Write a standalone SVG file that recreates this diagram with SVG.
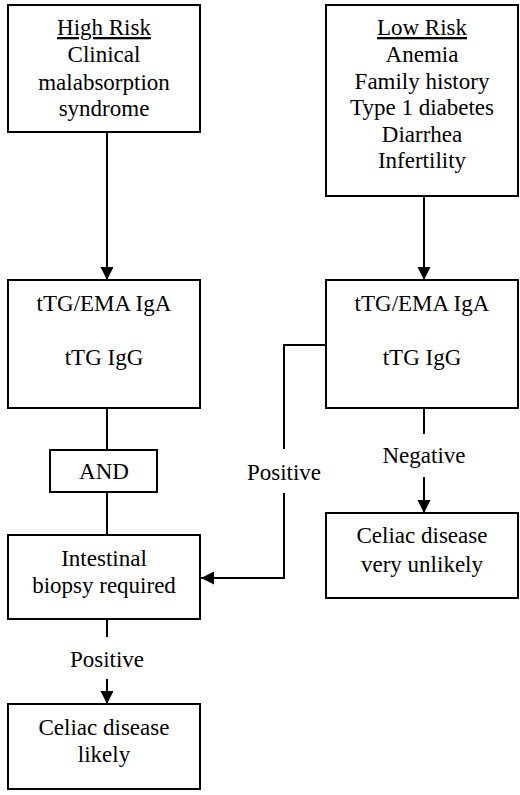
<svg xmlns="http://www.w3.org/2000/svg" width="520" height="795" viewBox="0 0 520 795">
<style>
  .box { fill: #fff; stroke: #000; stroke-width: 2; }
  .t { font-size: 23px; fill: #000; text-anchor: middle; }
  .u { text-decoration: underline; }
  .c { fill: none; stroke: #000; stroke-width: 2; }
</style>
<defs>
  <marker id="ah" markerUnits="userSpaceOnUse" markerWidth="14" markerHeight="14" refX="13" refY="6.5" orient="auto">
    <path d="M0,0 L13,6.5 L0,13 z" fill="#000"/>
  </marker>
</defs>
<rect width="520" height="795" fill="#fff"/>

<g font-family="Liberation Serif, Times New Roman, serif">
<g id="connectors">
  <line class="c" x1="107" y1="132" x2="107" y2="280" marker-end="url(#ah)"/>
  <line class="c" x1="424" y1="196" x2="424" y2="280" marker-end="url(#ah)"/>
  <line class="c" x1="107" y1="408" x2="107" y2="450"/>
  <line class="c" x1="107" y1="492" x2="107" y2="535"/>
  <polyline class="c" points="326,345 284,345 284,449"/>
  <polyline class="c" points="284,493 284,578 201,578" marker-end="url(#ah)"/>
  <text class="t" x="284" y="480">Positive</text>
  <line class="c" x1="424" y1="408" x2="424" y2="434"/>
  <line class="c" x1="424" y1="477" x2="424" y2="513" marker-end="url(#ah)"/>
  <text class="t" x="424" y="463">Negative</text>
  <line class="c" x1="107" y1="619" x2="107" y2="637"/>
  <line class="c" x1="107" y1="679" x2="107" y2="704" marker-end="url(#ah)"/>
  <text class="t" x="107" y="667">Positive</text>
</g>

<g id="high-risk">
  <rect class="box" x="8" y="5" width="192" height="127"/>
  <text class="t u" x="104" y="35">High Risk</text>
  <text class="t" x="104" y="62">Clinical</text>
  <text class="t" x="104" y="90">malabsorption</text>
  <text class="t" x="104" y="116">syndrome</text>
</g>

<g id="low-risk">
  <rect class="box" x="326" y="5" width="192" height="191"/>
  <text class="t u" x="422" y="35">Low Risk</text>
  <text class="t" x="422" y="62">Anemia</text>
  <text class="t" x="422" y="89">Family history</text>
  <text class="t" x="422" y="115">Type 1 diabetes</text>
  <text class="t" x="422" y="142">Diarrhea</text>
  <text class="t" x="422" y="168">Infertility</text>
</g>

<g id="tests-left">
  <rect class="box" x="8" y="280" width="192" height="128"/>
  <text class="t" x="104" y="311">tTG/EMA IgA</text>
  <text class="t" x="104" y="365">tTG IgG</text>
</g>

<g id="tests-right">
  <rect class="box" x="326" y="280" width="192" height="128"/>
  <text class="t" x="422" y="311">tTG/EMA IgA</text>
  <text class="t" x="422" y="365">tTG IgG</text>
</g>

<g id="and">
  <rect class="box" x="50" y="450" width="107" height="42"/>
  <text class="t" x="104" y="479">AND</text>
</g>

<g id="biopsy">
  <rect class="box" x="8" y="535" width="192" height="84"/>
  <text class="t" x="104" y="566">Intestinal</text>
  <text class="t" x="104" y="593">biopsy required</text>
</g>

<g id="very-unlikely">
  <rect class="box" x="326" y="513" width="192" height="85"/>
  <text class="t" x="422" y="543">Celiac disease</text>
  <text class="t" x="422" y="572">very unlikely</text>
</g>

<g id="likely">
  <rect class="box" x="8" y="704" width="192" height="85"/>
  <text class="t" x="104" y="735">Celiac disease</text>
  <text class="t" x="104" y="762">likely</text>
</g>
</g>
</svg>
